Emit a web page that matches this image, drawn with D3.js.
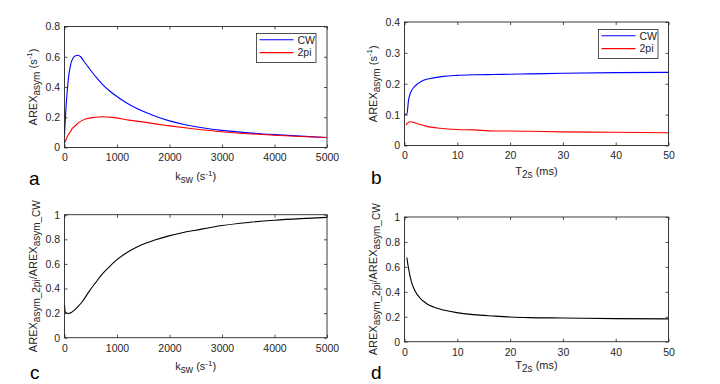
<!DOCTYPE html>
<html><head><meta charset="utf-8">
<script src="https://cdn.jsdelivr.net/npm/d3@7"></script>
<style>
html,body{margin:0;padding:0;background:#fff;}
svg{display:block;font-family:"Liberation Sans",Arial,sans-serif;}
</style></head>
<body><svg id="chart" width="720" height="384"></svg>
<script>
// ---- Panel a: AREX_asym vs k_sw ----
const kswCW = [0, 19, 51, 83, 115, 160, 211, 256, 307, 370, 466, 594, 722, 850, 978, 1169, 1361, 1553, 1744, 2000, 2256, 2500, 3000, 3500, 4000, 4500, 5000];
const arexCW_k = [0.085, 0.21, 0.37, 0.48, 0.545, 0.59, 0.607, 0.61, 0.60, 0.57, 0.525, 0.468, 0.418, 0.377, 0.342, 0.298, 0.261, 0.231, 0.205, 0.176, 0.154, 0.137, 0.113, 0.097, 0.085, 0.075, 0.066];
const ksw2pi = [0, 20, 50, 100, 150, 200, 275, 400, 590, 720, 910, 1230, 1550, 1870, 2000, 2450, 3000, 3500, 4000, 4500, 5000];
const arex2pi_k = [0.03, 0.045, 0.07, 0.098, 0.126, 0.142, 0.166, 0.188, 0.2, 0.203, 0.199, 0.181, 0.166, 0.149, 0.143, 0.124, 0.104, 0.091, 0.081, 0.073, 0.066];

// ---- Panel b: AREX_asym vs T2s ----
const t2sCW = [0.1, 0.45, 0.76, 1.08, 1.7, 2.66, 3.6, 5.5, 7.4, 9.9, 13.1, 16.8, 20, 23.7, 30, 40, 50];
const arexCW_t = [0.101, 0.101, 0.146, 0.168, 0.187, 0.202, 0.211, 0.219, 0.224, 0.227, 0.229, 0.230, 0.231, 0.232, 0.234, 0.236, 0.237];
const t2s2pi = [0.3, 0.6, 1.08, 2.34, 4.2, 6.75, 9.9, 13.1, 16.8, 20, 23.7, 30, 40, 50];
const arex2pi_t = [0.066, 0.073, 0.077, 0.071, 0.062, 0.056, 0.052, 0.0505, 0.047, 0.047, 0.046, 0.044, 0.043, 0.041];

// ---- Panel c: ratio vs k_sw ----
const kswRatio = [0, 12, 40, 83, 146, 241, 337, 463, 590, 717, 844, 971, 1162, 1352, 1543, 1733, 1987, 2241, 2500, 3000, 3500, 4000, 4500, 5000];
const ratio_k = [0.265, 0.212, 0.2, 0.197, 0.21, 0.246, 0.292, 0.373, 0.446, 0.516, 0.572, 0.624, 0.685, 0.731, 0.767, 0.796, 0.828, 0.853, 0.874, 0.912, 0.937, 0.955, 0.968, 0.978];

// ---- Panel d: ratio vs T2s ----
const t2sRatio = [0.44, 0.76, 1.07, 1.39, 2.0, 2.97, 4.2, 5.5, 7.4, 9.9, 13.1, 16.8, 20, 23.7, 30, 40, 50];
const ratio_t = [0.675, 0.589, 0.522, 0.469, 0.407, 0.348, 0.305, 0.278, 0.254, 0.233, 0.217, 0.206, 0.198, 0.193, 0.19, 0.185, 0.183];

// tick values
const kTicks = [0, 1000, 2000, 3000, 4000, 5000];
const tTicks = [0, 10, 20, 30, 40, 50];
const yTicksA = [0, 0.2, 0.4, 0.6, 0.8];
const yTicksB = [0, 0.1, 0.2, 0.3, 0.4];
const yTicksR = [0, 0.2, 0.4, 0.6, 0.8, 1];
const legendLabels = ["CW", "2pi"];

const svg = d3.select("#chart");
svg.append("rect").attr("width", 720).attr("height", 384).attr("fill", "#fff");

const AX = "#262626";
const zip = (xs, ys) => xs.map((x, i) => [x, ys[i]]);

function richText(g, parts, size) {
  let shift = 0;
  parts.forEach(([t, kind]) => {
    const target = kind === "sub" ? 3 : kind === "sup" ? -4.5 : 0;
    g.append("tspan")
      .attr("dy", target - shift)
      .attr("font-size", kind === "n" ? size : (kind === "sub" ? size - 1 : size - 3))
      .text(t);
    shift = target;
  });
}

function panel(cfg) {
  const x = d3.scaleLinear().domain(cfg.xDomain).range([cfg.left, cfg.right]);
  const y = d3.scaleLinear().domain(cfg.yDomain).range([cfg.bottom, cfg.top]);
  const g = svg.append("g");
  const fmt = d => String(d);
  const styleAxis = sel => {
    sel.select(".domain").remove();
    sel.selectAll("line").attr("stroke", AX).attr("stroke-width", 0.8);
    sel.selectAll("text").attr("fill", AX).attr("font-size", 10.5)
      .attr("font-family", "Liberation Sans, Arial, sans-serif");
  };
  g.append("g").attr("transform", `translate(0,${cfg.bottom})`)
    .call(d3.axisBottom(x).tickValues(cfg.xTicks).tickFormat(fmt).tickSize(-3).tickPadding(6.5)).call(styleAxis);
  g.append("g").attr("transform", `translate(0,${cfg.top})`)
    .call(d3.axisTop(x).tickValues(cfg.xTicks).tickFormat("").tickSize(-3)).call(styleAxis);
  g.append("g").attr("transform", `translate(${cfg.left},0)`)
    .call(d3.axisLeft(y).tickValues(cfg.yTicks).tickFormat(fmt).tickSize(-3).tickPadding(4.5)).call(styleAxis);
  g.append("g").attr("transform", `translate(${cfg.right},0)`)
    .call(d3.axisRight(y).tickValues(cfg.yTicks).tickFormat("").tickSize(-3)).call(styleAxis);

  const line = d3.line().x(d => x(d[0])).y(d => y(d[1])).curve(d3.curveMonotoneX);
  cfg.series.forEach(s => {
    g.append("path").datum(zip(s.x, s.y)).attr("d", line)
      .attr("fill", "none").attr("stroke", s.color).attr("stroke-width", 1.1);
  });

  g.append("rect").attr("x", cfg.left).attr("y", cfg.top)
    .attr("width", cfg.right - cfg.left).attr("height", cfg.bottom - cfg.top)
    .attr("fill", "none").attr("stroke", AX).attr("stroke-width", 0.9);

  const xl = g.append("text").attr("x", (cfg.left + cfg.right) / 2).attr("y", cfg.xLabelY)
    .attr("text-anchor", "middle").attr("fill", AX).attr("font-size", 11);
  richText(xl, cfg.xLabel, 11);
  const yl = g.append("text")
    .attr("transform", `translate(${cfg.yLabelX},${(cfg.top + cfg.bottom) / 2}) rotate(-90)`)
    .attr("text-anchor", "middle").attr("fill", AX).attr("font-size", 11);
  richText(yl, cfg.yLabel, 11);
  g.append("text").attr("x", cfg.letterX).attr("y", cfg.letterY)
    .attr("font-size", 19).attr("fill", "#000").text(cfg.letter);

  if (cfg.legend) {
    const L = cfg.legend;
    const lg = g.append("g");
    lg.append("rect").attr("x", L.x).attr("y", L.y).attr("width", L.w).attr("height", L.h)
      .attr("fill", "#fff").attr("stroke", AX).attr("stroke-width", 0.8);
    cfg.series.forEach((s, i) => {
      const yy = L.y + 6.3 + i * 12.8;
      lg.append("line").attr("x1", L.x + 3).attr("x2", L.x + 37).attr("y1", yy).attr("y2", yy)
        .attr("stroke", s.color).attr("stroke-width", 1.1);
      lg.append("text").attr("x", L.x + 41).attr("y", yy + 3.7).attr("font-size", 10.5)
        .attr("fill", AX).text(legendLabels[i]);
    });
  }
}

const arexLabel = [["AREX", "n"], ["asym", "sub"], [" (s", "n"], ["-1", "sup"], [")", "n"]];
const ratioLabel = [["AREX", "n"], ["asym_2pi", "sub"], ["/AREX", "n"], ["asym_CW", "sub"]];
const kLabel = [["k", "n"], ["sw", "sub"], [" (s", "n"], ["-1", "sup"], [")", "n"]];
const tLabel = [["T", "n"], ["2s", "sub"], [" (ms)", "n"]];

panel({
  left: 64.5, right: 327, top: 26.5, bottom: 147.5,
  xDomain: [0, 5000], yDomain: [0, 0.8], xTicks: kTicks, yTicks: yTicksA,
  series: [{x: kswCW, y: arexCW_k, color: "#0000ff"}, {x: ksw2pi, y: arex2pi_k, color: "#ff0000"}],
  xLabel: kLabel, yLabel: arexLabel, xLabelY: 180, yLabelX: 36.5,
  letter: "a", letterX: 29, letterY: 185,
  legend: {x: 256.5, y: 33.5, w: 59.5, h: 29}
});
panel({
  left: 404.5, right: 668.5, top: 22, bottom: 145.5,
  xDomain: [0, 50], yDomain: [0, 0.4], xTicks: tTicks, yTicks: yTicksB,
  series: [{x: t2sCW, y: arexCW_t, color: "#0000ff"}, {x: t2s2pi, y: arex2pi_t, color: "#ff0000"}],
  xLabel: tLabel, yLabel: arexLabel, xLabelY: 175, yLabelX: 376.5,
  letter: "b", letterX: 371, letterY: 183.5,
  legend: {x: 598.5, y: 29.5, w: 59.5, h: 29}
});
panel({
  left: 64.5, right: 327, top: 214.7, bottom: 337.7,
  xDomain: [0, 5000], yDomain: [0, 1], xTicks: kTicks, yTicks: yTicksR,
  series: [{x: kswRatio, y: ratio_k, color: "#000000"}],
  xLabel: kLabel, yLabel: ratioLabel, xLabelY: 370, yLabelX: 36.5,
  letter: "c", letterX: 30, letterY: 378.5
});
panel({
  left: 404.5, right: 668.5, top: 217, bottom: 341.7,
  xDomain: [0, 50], yDomain: [0, 1], xTicks: tTicks, yTicks: yTicksR,
  series: [{x: t2sRatio, y: ratio_t, color: "#000000"}],
  xLabel: tLabel, yLabel: ratioLabel, xLabelY: 369, yLabelX: 376.5,
  letter: "d", letterX: 371, letterY: 378.5
});
</script></body></html>
